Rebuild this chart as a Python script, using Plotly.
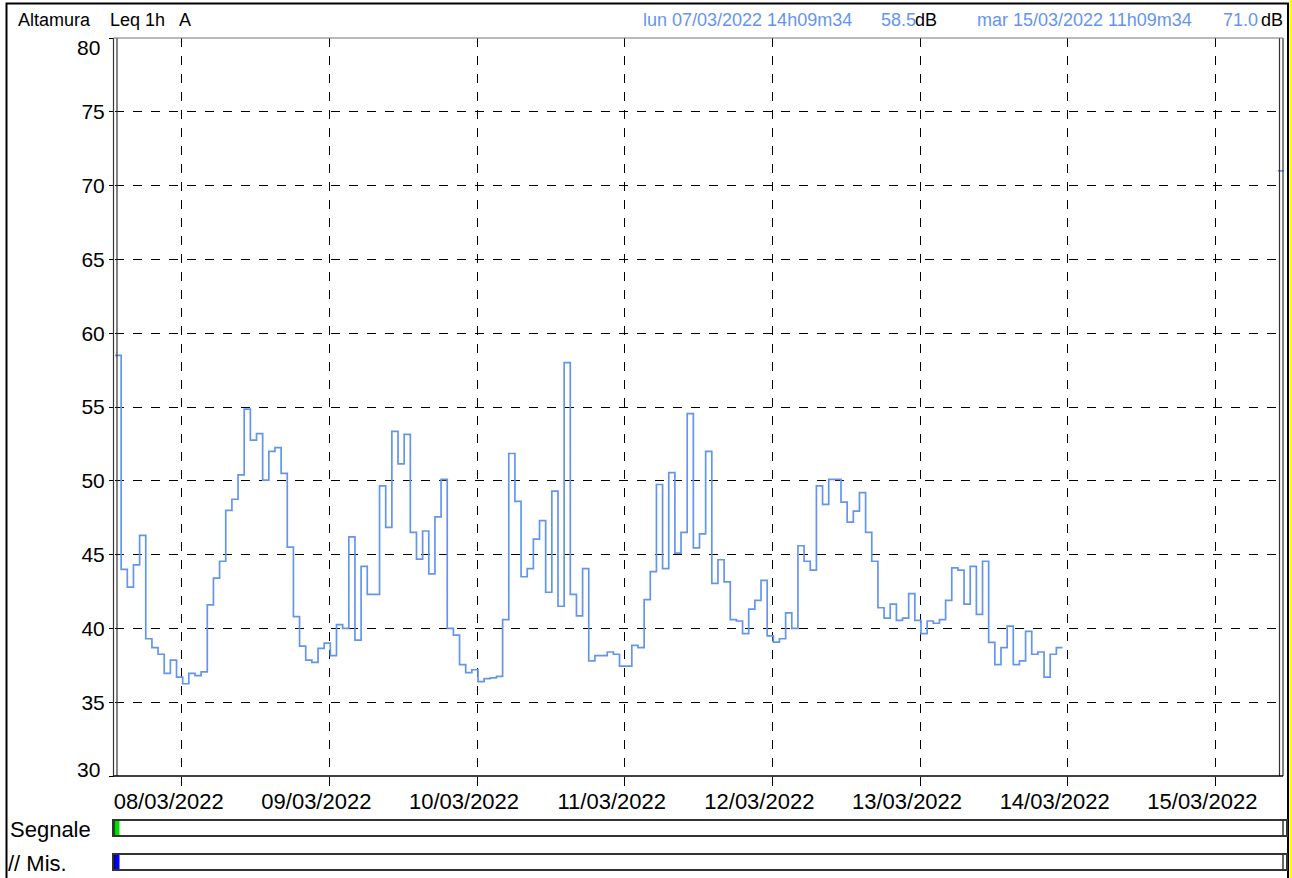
import datetime as dt
import plotly.graph_objects as go

# ---------------- data ----------------
first_time = "2022-03-07 13:09:34"
first_value = 58.5
series_start = "2022-03-07 14:09:34"   # hourly Leq values from here
leq_values = [
    44.0, 42.8, 44.3, 46.3, 39.3, 38.7, 38.25, 36.95, 37.85, 36.7,
    36.25, 36.95, 36.8, 37.05, 41.6, 43.4, 44.55, 48.0, 48.75, 50.4,
    54.85, 52.75, 53.2, 50.05, 52.0, 52.25, 50.5, 45.5, 40.8, 38.8,
    37.85, 37.7, 38.65, 39.0, 38.15, 40.25, 40.0, 46.2, 39.2, 44.2,
    42.3, 42.3, 49.65, 46.85, 53.35, 51.15, 53.15, 46.5, 44.7, 46.6,
    43.7, 47.55, 50.1, 40.0, 39.55, 37.55, 37.0, 37.2, 36.4, 36.6,
    36.65, 36.75, 40.6, 51.85, 48.6, 43.5, 44.05, 46.05, 47.3, 42.45,
    49.3, 41.5, 58.0, 42.3, 40.85, 44.05, 37.8, 38.15, 38.15, 38.4,
    38.25, 37.45, 37.45, 38.85, 38.7, 41.95, 43.85, 49.75, 44.05, 50.55,
    45.1, 46.5, 54.55, 45.45, 46.4, 52.0, 43.05, 44.65, 43.15, 40.6,
    40.5, 39.65, 41.3, 41.9, 43.25, 39.5, 39.07, 39.3, 41.05, 40.0,
    45.6, 44.55, 43.95, 49.65, 48.4, 50.1, 50.1, 48.55, 47.2, 47.95,
    49.2, 46.5, 44.55, 41.4, 40.7, 41.65, 40.55, 40.7, 42.35, 40.55,
    39.65, 40.5, 40.35, 40.6, 41.9, 44.1, 43.95, 41.65, 44.2, 40.95,
    44.55, 39.05, 37.55, 38.7, 40.15, 37.55, 37.8, 39.8, 38.25, 38.4,
    36.7, 38.25, 38.7,
]
last_time = "2022-03-15 10:09:34"
last_value = 71.0
range_start = "2022-03-07 13:09:34"
range_end = "2022-03-15 11:09:34"

day_ticks = ["2022-03-08", "2022-03-09", "2022-03-10", "2022-03-11",
             "2022-03-12", "2022-03-13", "2022-03-14", "2022-03-15"]
day_labels = ["08/03/2022", "09/03/2022", "10/03/2022", "11/03/2022",
              "12/03/2022", "13/03/2022", "14/03/2022", "15/03/2022"]
y_ticks = [30, 35, 40, 45, 50, 55, 60, 65, 70, 75, 80]

header_left = ["Altamura", "Leq 1h", "A"]
cursor1 = ("lun 07/03/2022 14h09m34", "58.5", "dB")
cursor2 = ("mar 15/03/2022 11h09m34", "71.0", "dB")
bar_labels = ["Segnale", "// Mis."]

# ---------------- build step series ----------------
fmt = "%Y-%m-%d %H:%M:%S"
hour = dt.timedelta(hours=1)
t0 = dt.datetime.strptime(series_start, fmt)
xs = [dt.datetime.strptime(first_time, fmt)]
ys = [first_value]
for k, v in enumerate(leq_values):
    xs.append(t0 + k * hour)
    ys.append(v)
xs.append(t0 + len(leq_values) * hour)
ys.append(leq_values[-1])
xs.append(t0 + len(leq_values) * hour)
ys.append(None)
tl = dt.datetime.strptime(last_time, fmt)
xs += [tl, tl + hour]
ys += [last_value, last_value]

# ---------------- layout helpers ----------------
W, H = 1292, 878
ML, MR, MT, MB = 115, 8, 38, 102
PW = W - ML - MR
PH = H - MT - MB


def px(x):
    return (x - ML) / PW


def py(y):
    return (H - MB - y) / PH


BLUE = "#6495ED"
FONT = "Liberation Sans, Arial, sans-serif"

fig = go.Figure()
fig.add_trace(go.Scatter(
    x=xs, y=ys, mode="lines", connectgaps=False, hoverinfo="skip",
    line=dict(color=BLUE, width=1.7, shape="hv"),
))

shapes = []
# outer frame and yellow strip
shapes.append(dict(type="rect", xref="paper", yref="paper",
                   x0=px(6.5), x1=px(1288), y0=py(890), y1=py(3.5),
                   line=dict(color="black", width=2), fillcolor="rgba(0,0,0,0)", layer="below"))
shapes.append(dict(type="rect", xref="paper", yref="paper",
                   x0=px(1289.5), x1=px(1293), y0=py(890), y1=py(-2),
                   line=dict(width=0), fillcolor="#ffff00", layer="above"))
# plot frame: double verticals, top and bottom lines
for xv in (113.5, 117, 1279.5, 1283):
    shapes.append(dict(type="line", xref="paper", yref="paper",
                       x0=px(xv), x1=px(xv), y0=0, y1=1,
                       line=dict(color="#333333", width=1.2), layer="above"))
shapes.append(dict(type="line", xref="paper", yref="paper",
                   x0=px(113.5), x1=px(1283), y0=1, y1=1,
                   line=dict(color="#777777", width=1.2), layer="above"))
shapes.append(dict(type="line", xref="paper", yref="paper",
                   x0=px(113.5), x1=px(1283), y0=0, y1=0,
                   line=dict(color="black", width=1.5), layer="above"))

# status bars
bar_rows = [(820, 836, "#00dd00", "#006600"), (854, 870, "#0000ff", "#000066")]
for top, bot, col, dark in bar_rows:
    shapes.append(dict(type="rect", xref="paper", yref="paper",
                       x0=px(113), x1=px(1287), y0=py(bot), y1=py(top),
                       line=dict(color="#333333", width=2), fillcolor="white"))
    shapes.append(dict(type="line", xref="paper", yref="paper",
                       x0=px(1283), x1=px(1283), y0=py(bot), y1=py(top),
                       line=dict(color="#333333", width=1.5)))
    shapes.append(dict(type="rect", xref="paper", yref="paper",
                       x0=px(115), x1=px(119.5), y0=py(bot - 1), y1=py(top + 1),
                       line=dict(width=0), fillcolor=col))
    shapes.append(dict(type="line", xref="paper", yref="paper",
                       x0=px(114.5), x1=px(114.5), y0=py(bot - 1), y1=py(top + 1),
                       line=dict(color=dark, width=1.2)))

annotations = []


def txt(text, x, y, size, color="black", xanchor="left", family=FONT):
    annotations.append(dict(text=text, xref="paper", yref="paper", x=px(x), y=py(y),
                            xanchor=xanchor, yanchor="middle", showarrow=False,
                            font=dict(family=family, size=size, color=color)))


# header
txt(header_left[0], 16, 20, 18)
txt(header_left[1], 108, 20, 18)
txt(header_left[2], 177, 20, 18)
txt(cursor1[0], 641, 20, 18, BLUE)
txt(cursor1[1], 879, 20, 18, BLUE)
txt(cursor1[2], 913, 20, 18)
txt(cursor2[0], 975, 20, 18, BLUE)
txt(cursor2[1], 1220.5, 20, 18, BLUE)
txt(cursor2[2], 1259, 20, 18)
# bar labels
txt(bar_labels[0], 8, 829, 22)
txt(bar_labels[1], 6, 863, 22)

# end y tick labels, clamped inside the frame like the original
y_text = [str(v) for v in y_ticks]
annotations.append(dict(text=y_text[-1], xref="paper", yref="y", x=px(102), y=y_ticks[-1],
                        xanchor="right", yanchor="middle", yshift=-9.5, showarrow=False,
                        font=dict(family=FONT, size=21, color="black")))
annotations.append(dict(text=y_text[0], xref="paper", yref="y", x=px(102), y=y_ticks[0],
                        xanchor="right", yanchor="middle", yshift=7, showarrow=False,
                        font=dict(family=FONT, size=21, color="black")))

fig.update_layout(
    width=W, height=H,
    margin=dict(l=ML, r=MR, t=MT, b=MB, pad=0),
    paper_bgcolor="white", plot_bgcolor="white",
    showlegend=False,
    shapes=shapes, annotations=annotations,
    xaxis=dict(
        type="date", range=[range_start, range_end],
        tickvals=day_ticks, ticktext=day_labels,
        showgrid=True, gridcolor="black", griddash="dash", gridwidth=1,
        ticks="outside", ticklen=9, tickcolor="black", tickwidth=1,
        showline=False, zeroline=False,
        tickfont=dict(family=FONT, size=22, color="black"),
        ticklabelshift=-13, ticklabelstandoff=-3,
    ),
    yaxis=dict(
        range=[30, 80], tickvals=y_ticks,
        ticktext=[""] + y_text[1:-1] + [""],
        showgrid=True, gridcolor="black", griddash="dash", gridwidth=1,
        ticks="outside", ticklen=5, tickcolor="black", tickwidth=1,
        showline=False, zeroline=False,
        tickfont=dict(family=FONT, size=21, color="black"),
    ),
)

fig.write_html(
    "out.html",
    config={"displayModeBar": False, "staticPlot": True},
    post_script="document.body.style.margin='0';document.body.style.overflow='hidden';",
)
